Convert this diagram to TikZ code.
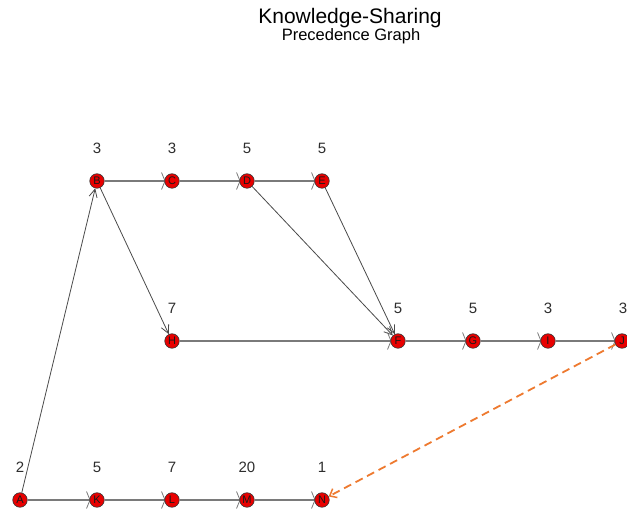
\documentclass[tikz,border=0pt]{standalone}
\usepackage{fontspec}
\setmainfont{Liberation Sans}
\usetikzlibrary{arrows.meta,backgrounds}
\definecolor{nodered}{HTML}{E80000}
\definecolor{edgegray}{HTML}{4A4A4A}
\definecolor{hgray}{HTML}{7A7A7A}
\definecolor{dashorange}{HTML}{EE7A30}
\definecolor{labgray}{HTML}{2E2E2E}
\tikzset{
  vtx/.style={circle,draw=black!80,line width=0.6pt,fill=nodered,minimum size=14.5pt,inner sep=0pt,font=\fontsize{11}{11}\selectfont,text=black!90},
  num/.style={font=\fontsize{15}{15}\selectfont,text=labgray,anchor=base},
  edge/.style={draw=edgegray,line width=0.8pt,-{Straight Barb[length=8pt,width=8pt,line width=0.8pt]}},
  hedge/.style={draw=hgray,line width=1.6pt,-{Straight Barb[length=3.5pt,width=17pt,line width=0.8pt]},shorten >=-1pt},
  oedge/.style={draw=dashorange,line width=1.8pt,dash pattern=on 8pt off 5pt,-{Straight Barb[length=6pt,width=10pt,line width=1.5pt]}}
}
\begin{document}
\begin{tikzpicture}[x=1pt,y=-1pt]
\useasboundingbox (0,0) rectangle (627,510);
\node[font=\fontsize{21}{21}\selectfont,anchor=base] (t1) at (350,24) {Knowledge-Sharing};
\node[font=\fontsize{16.5}{16.5}\selectfont,anchor=base] (t2) at (351,41) {Precedence Graph};
% nodes
\node[vtx] (B) at (97,181) {B};
\node[vtx] (C) at (172,181) {C};
\node[vtx] (D) at (247,181) {D};
\node[vtx] (E) at (322,181) {E};
\node[vtx] (H) at (172,341) {H};
\node[vtx] (F) at (398,341) {F};
\node[vtx] (G) at (473,341) {G};
\node[vtx] (I) at (548,341) {I};
\node[vtx] (J) at (622,341) {J};
\node[vtx] (A) at (20,500) {A};
\node[vtx] (K) at (97,500) {K};
\node[vtx] (L) at (172,500) {L};
\node[vtx] (M) at (247,500) {M};
\node[vtx] (N) at (322,500) {N};
% labels
\node[num] (lB) at (97,154) {3};
\node[num] (lC) at (172,154) {3};
\node[num] (lD) at (247,154) {5};
\node[num] (lE) at (322,154) {5};
\node[num] (lH) at (172,314) {7};
\node[num] (lF) at (398,314) {5};
\node[num] (lG) at (473,314) {5};
\node[num] (lI) at (548,314) {3};
\node[num] (lJ) at (623,314) {3};
\node[num] (lA) at (20,473) {2};
\node[num] (lK) at (97,473) {5};
\node[num] (lL) at (172,473) {7};
\node[num] (lM) at (247,473) {20};
\node[num] (lN) at (322,473) {1};
% edges
\begin{scope}[on background layer]
\fill[white] (0,0) rectangle (627,510);
\draw[edge] (A) -- (B);
\draw[edge] (B) -- (H);
\draw[edge] (D) -- (F);
\draw[edge] (E) -- (F);
\draw[hedge] (B) -- (C);
\draw[hedge] (C) -- (D);
\draw[hedge] (D) -- (E);
\draw[hedge] (H) -- (F);
\draw[hedge] (F) -- (G);
\draw[hedge] (G) -- (I);
\draw[hedge] (I) -- (J);
\draw[hedge] (A) -- (K);
\draw[hedge] (K) -- (L);
\draw[hedge] (L) -- (M);
\draw[hedge] (M) -- (N);
\draw[oedge] (J) -- (N);
\end{scope}
\end{tikzpicture}
\end{document}
